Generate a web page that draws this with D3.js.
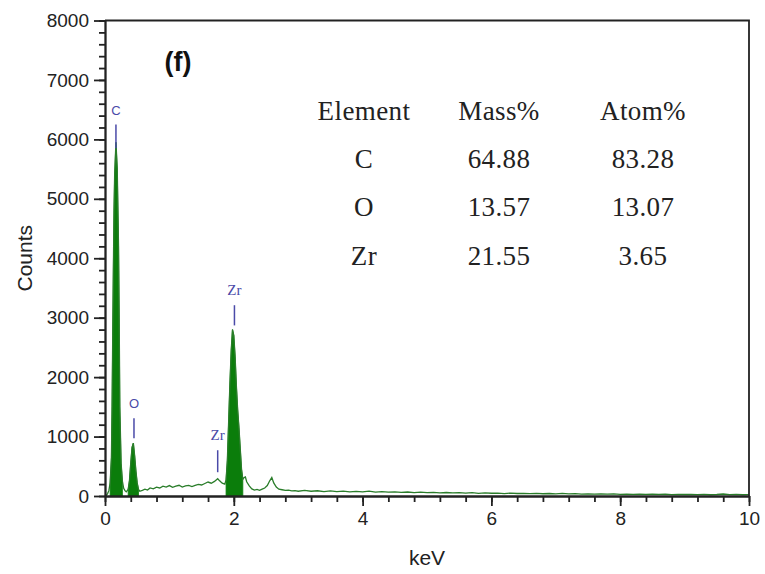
<!DOCTYPE html>
<html lang="en">
<head>
<meta charset="UTF-8">
<title>EDS spectrum</title>
<script src="https://d3js.org/d3.v7.min.js"></script>
<style>
  body { margin: 0; background: #fff; }
  svg { display: block; }
  .axis path, .axis line { stroke: #222; stroke-width: 1.8px; }
  .tbl { font-family: "Liberation Serif", "Times New Roman", serif; font-size: 27px; fill: #222; letter-spacing: 0.4px; }
</style>
</head>
<body>
<svg id="chart" width="765" height="574"></svg>
<script>
// spectrum (keV, counts)
const keV = [
  0.00, 0.02, 0.04, 0.06, 0.08, 0.10, 0.11, 0.12, 0.13, 0.14,
  0.15, 0.17, 0.19, 0.21, 0.22, 0.23, 0.25, 0.27, 0.29, 0.31,
  0.33, 0.36, 0.38, 0.40, 0.42, 0.44, 0.46, 0.48, 0.50, 0.52,
  0.54, 0.58, 0.62, 0.66, 0.70, 0.75, 0.80, 0.85, 0.90, 0.95,
  1.00, 1.05, 1.10, 1.15, 1.20, 1.25, 1.30, 1.35, 1.40, 1.45,
  1.50, 1.55, 1.60, 1.65, 1.70, 1.75, 1.78, 1.82, 1.86, 1.88,
  1.90, 1.92, 1.94, 1.96, 1.98, 2.00, 2.02, 2.04, 2.06, 2.08,
  2.10, 2.12, 2.14, 2.16, 2.18, 2.20, 2.24, 2.28, 2.32, 2.36,
  2.40, 2.44, 2.48, 2.52, 2.56, 2.59, 2.62, 2.66, 2.70, 2.75,
  2.80, 2.85, 2.90, 2.95, 3.00, 3.10, 3.20, 3.30, 3.40, 3.50,
  3.60, 3.70, 3.80, 3.90, 4.00, 4.10, 4.20, 4.30, 4.40, 4.50,
  4.60, 4.70, 4.80, 4.90, 5.00, 5.10, 5.20, 5.30, 5.40, 5.50,
  5.60, 5.70, 5.80, 5.90, 6.00, 6.10, 6.20, 6.30, 6.40, 6.50,
  6.60, 6.70, 6.80, 6.90, 7.00, 7.10, 7.20, 7.30, 7.40, 7.50,
  7.60, 7.70, 7.80, 7.90, 8.00, 8.10, 8.20, 8.30, 8.40, 8.50,
  8.60, 8.70, 8.80, 8.90, 9.00, 9.10, 9.20, 9.30, 9.40, 9.50,
  9.60, 9.70, 9.80, 9.90, 10.00
];
const counts = [
  0, 10, 40, 90, 220, 650, 1500, 2700, 3800, 4800,
  5400, 5950, 5500, 4200, 3000, 1500, 550, 250, 130, 90,
  70, 110, 260, 560, 820, 890, 680, 420, 220, 110,
  80, 95, 115, 100, 135, 120, 150, 135, 165, 150,
  175, 145, 165, 180, 150, 170, 180, 160, 180, 195,
  185, 210, 235, 215, 245, 290, 255, 215, 200, 270,
  600, 1250, 1900, 2450, 2800, 2700, 2350, 1850, 1450, 1150,
  800, 450, 280, 310, 320, 240, 170, 120, 100, 110,
  95, 115, 135, 175, 260, 310, 220, 150, 115, 105,
  95, 100, 85, 90, 80, 95, 80, 88, 75, 85,
  74, 82, 69, 77, 70, 81, 66, 73, 64, 71,
  62, 67, 57, 66, 56, 61, 54, 59, 51, 57,
  49, 56, 45, 51, 46, 49, 41, 50, 42, 45,
  40, 44, 38, 42, 35, 43, 36, 39, 33, 37,
  32, 36, 31, 35, 28, 33, 29, 32, 27, 30,
  26, 31, 24, 28, 25, 27, 22, 28, 21, 25,
  34, 23, 26, 21, 22
];

// filled peak windows
const roiStart = [0.08, 0.36, 1.88];
const roiEnd = [0.27, 0.52, 2.14];

// peak markers
const markerLabel = ['C', 'O', 'Zr', 'Zr'];
const markerKeV = [0.17, 0.45, 1.75, 2.01];
const markerTop = [6250, 1310, 770, 3210];
const markerBottom = [5850, 970, 400, 2870];

// quantification table
const tableHeader = ['Element', 'Mass%', 'Atom%'];
const tableElement = ['C', 'O', 'Zr'];
const massPct = ['64.88', '13.57', '21.55'];
const atomPct = ['83.28', '13.07', '3.65'];

const yTicks = [0, 1000, 2000, 3000, 4000, 5000, 6000, 7000, 8000];
const xTicks = [0, 2, 4, 6, 8, 10];

const svg = d3.select('#chart');
const x = d3.scaleLinear().domain([0, 10]).range([105, 749]);
const y = d3.scaleLinear().domain([0, 8000]).range([496, 20.5]);

const points = keV.map((k, i) => ({ k: k, c: counts[i] }));

// filled peaks
const area = d3.area().x(d => x(d.k)).y0(y(0)).y1(d => y(d.c));
roiStart.forEach((s, i) => {
    svg.append('path')
        .datum(points.filter(p => p.k >= s - 1e-9 && p.k <= roiEnd[i] + 1e-9))
        .attr('d', area)
        .style('fill', '#0b7d0b')
        .style('stroke', '#0b7d0b')
        .style('stroke-width', '0.8px');
});

// spectrum line
const line = d3.line().x(d => x(d.k)).y(d => y(d.c));
svg.append('path')
    .datum(points)
    .attr('d', line)
    .style('fill', 'none')
    .style('stroke', '#2a7d2a')
    .style('stroke-width', '1.3px');

// markers
markerLabel.forEach((lab, i) => {
    svg.append('line')
        .attr('x1', x(markerKeV[i])).attr('x2', x(markerKeV[i]))
        .attr('y1', y(markerTop[i])).attr('y2', y(markerBottom[i]))
        .style('stroke', '#4a4aa8')
        .style('stroke-width', '1.5px');
    svg.append('text')
        .attr('x', x(markerKeV[i]))
        .attr('y', y(markerTop[i]) - 10)
        .attr('text-anchor', 'middle')
        .style('font-family', lab === 'Zr' ? '"Liberation Serif", serif' : '"Liberation Sans", sans-serif')
        .style('font-size', lab === 'Zr' ? '15px' : '13px')
        .style('fill', '#4a4aa8')
        .text(lab);
});

// axes
function styleTicks(g) {
    g.selectAll('text')
        .style('font-family', '"Liberation Sans", Arial, sans-serif')
        .style('font-size', '19px')
        .style('fill', '#222');
}
svg.append('g').attr('class', 'axis')
    .attr('transform', `translate(${x(0)},0)`)
    .call(d3.axisLeft(y).tickValues(yTicks).tickSize(11).tickSizeOuter(0).tickPadding(5).tickFormat(d3.format('d')))
    .call(styleTicks);
svg.append('g').attr('class', 'axis')
    .attr('transform', `translate(${x(0)},0)`)
    .call(d3.axisLeft(y).tickValues(d3.range(0, 8001, 200)).tickSize(6).tickSizeOuter(0).tickFormat(''));
svg.append('g').attr('class', 'axis')
    .attr('transform', `translate(0,${y(0)})`)
    .call(d3.axisBottom(x).tickValues(xTicks).tickSize(10).tickSizeOuter(0).tickPadding(6).tickFormat(d3.format('d')))
    .call(styleTicks);
svg.append('g').attr('class', 'axis')
    .attr('transform', `translate(0,${y(0)})`)
    .call(d3.axisBottom(x).tickValues(d3.range(0, 10.01, 0.4)).tickSize(6).tickSizeOuter(0).tickFormat(''));

// frame top and right
svg.append('path')
    .attr('d', `M${x(0)},${y(8000)}H${x(10)}V${y(0)}`)
    .style('fill', 'none')
    .style('stroke', '#222')
    .style('stroke-width', '1.8px');

// axis titles
svg.append('text')
    .attr('transform', `translate(32,${(y(0) + y(8000)) / 2}) rotate(-90)`)
    .attr('text-anchor', 'middle')
    .style('font-family', '"Liberation Sans", Arial, sans-serif')
    .style('font-size', '21px')
    .style('fill', '#222')
    .text('Counts');
svg.append('text')
    .attr('x', (x(0) + x(10)) / 2)
    .attr('y', 565)
    .attr('text-anchor', 'middle')
    .style('font-family', '"Liberation Sans", Arial, sans-serif')
    .style('font-size', '21px')
    .style('fill', '#222')
    .text('keV');

// panel letter
svg.append('text')
    .attr('x', 178)
    .attr('y', 71)
    .attr('text-anchor', 'middle')
    .style('font-family', '"Liberation Sans", Arial, sans-serif')
    .style('font-size', '27px')
    .style('font-weight', 'bold')
    .style('fill', '#111')
    .text('(f)');

// table
const colX = [364, 499, 643];
const rowY = [120, 168, 216, 265];
const rows = [tableHeader].concat(tableElement.map((e, i) => [e, massPct[i], atomPct[i]]));
rows.forEach((r, ri) => {
    r.forEach((cell, ci) => {
        svg.append('text')
            .attr('class', 'tbl')
            .attr('x', colX[ci])
            .attr('y', rowY[ri])
            .attr('text-anchor', 'middle')
            .text(cell);
    });
});
</script>
</body>
</html>
